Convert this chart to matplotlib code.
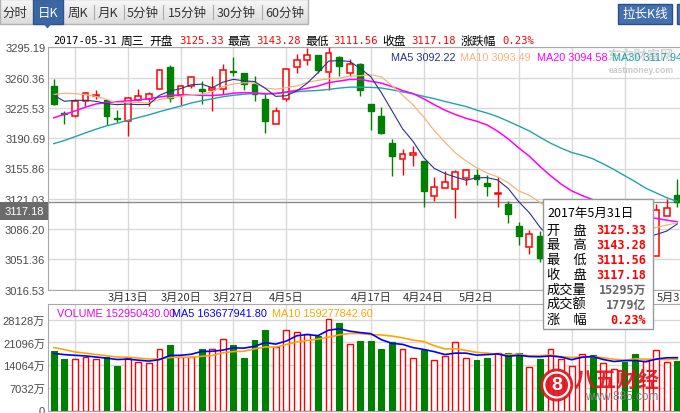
import numpy as np
import pandas as pd
import matplotlib
matplotlib.use("Agg")
import matplotlib.pyplot as plt
from matplotlib.colors import LinearSegmentedColormap
from matplotlib.patches import Rectangle, Circle, Polygon

# ---- data: SSE composite, daily, 2017-03-02 .. 2017-05-31 -----------------
dates = ['3-2', '3-3', '3-6', '3-7', '3-8', '3-9', '3-10', '3-13', '3-14', '3-15',
         '3-16', '3-17', '3-20', '3-21', '3-22', '3-23', '3-24', '3-27', '3-28', '3-29',
         '3-30', '3-31', '4-5', '4-6', '4-7', '4-10', '4-11', '4-12', '4-13', '4-14',
         '4-17', '4-18', '4-19', '4-20', '4-21', '4-24', '4-25', '4-26', '4-27', '4-28',
         '5-2', '5-3', '5-4', '5-5', '5-8', '5-9', '5-10', '5-11', '5-12', '5-15',
         '5-16', '5-17', '5-18', '5-19', '5-22', '5-23', '5-24', '5-25', '5-26', '5-31']

open_ = [3251.1, 3219.5, 3216.6, 3233.1, 3239.5, 3234.6, 3213.5, 3210.1, 3235.0, 3235.8,
         3246.9, 3272.2, 3240.8, 3250.3, 3247.3, 3245.7, 3246.9, 3268.5, 3265.7, 3253.0,
         3235.8, 3206.6, 3235.8, 3272.2, 3280.6, 3286.4, 3266.4, 3283.7, 3265.3, 3276.0,
         3230.0, 3216.6, 3185.2, 3166.4, 3171.4, 3164.1, 3123.9, 3133.1, 3131.9, 3144.6,
         3148.4, 3139.2, 3126.5, 3114.7, 3090.2, 3065.3, 3078.7, 3045.0, 3051.0, 3085.0,
         3082.0, 3108.0, 3085.0, 3087.0, 3088.0, 3073.0, 3052.0, 3055.7, 3101.7, 3125.33]

high = [3258.8, 3222.4, 3235.8, 3243.4, 3246.5, 3235.0, 3223.1, 3238.5, 3247.3, 3243.4,
        3270.3, 3274.9, 3251.9, 3261.8, 3256.1, 3261.8, 3276.0, 3283.7, 3265.7, 3261.8,
        3241.5, 3226.2, 3271.4, 3287.5, 3294.0, 3286.4, 3295.19, 3284.8, 3281.8, 3276.8,
        3230.0, 3226.2, 3189.8, 3178.3, 3181.4, 3164.1, 3145.7, 3152.6, 3154.5, 3154.9,
        3155.3, 3148.4, 3145.7, 3118.9, 3094.0, 3085.2, 3084.4, 3062.0, 3084.0, 3096.0,
        3113.5, 3116.0, 3097.0, 3097.0, 3089.0, 3083.0, 3068.0, 3115.1, 3120.4, 3143.28]

low = [3228.9, 3207.0, 3215.5, 3228.1, 3235.8, 3205.9, 3209.0, 3193.6, 3233.1, 3228.1,
       3246.9, 3232.7, 3229.3, 3248.0, 3230.0, 3222.4, 3241.5, 3261.8, 3246.1, 3233.9,
       3197.1, 3206.6, 3233.9, 3266.0, 3275.2, 3265.7, 3246.5, 3262.6, 3262.6, 3239.6,
       3200.1, 3196.0, 3147.6, 3148.8, 3159.1, 3112.0, 3118.9, 3133.1, 3098.6, 3137.3,
       3137.3, 3124.6, 3112.0, 3093.6, 3068.3, 3057.6, 3048.0, 3016.53, 3049.0, 3080.0,
       3071.0, 3100.0, 3081.0, 3083.0, 3053.0, 3052.0, 3023.0, 3055.7, 3101.7, 3111.56]

close = [3230.03, 3218.31, 3233.87, 3242.41, 3240.66, 3216.75, 3212.76, 3237.02, 3239.33, 3241.76,
         3268.94, 3237.45, 3250.81, 3261.61, 3245.22, 3248.55, 3269.45, 3266.96, 3252.95, 3241.31,
         3210.24, 3222.51, 3270.30, 3281.00, 3286.62, 3269.39, 3288.97, 3273.83, 3275.96, 3246.07,
         3222.17, 3196.71, 3170.69, 3172.17, 3173.15, 3129.53, 3134.57, 3140.85, 3152.19, 3154.66,
         3143.71, 3135.35, 3127.37, 3103.04, 3078.61, 3080.53, 3052.79, 3061.50, 3083.51, 3090.23,
         3112.96, 3104.44, 3090.14, 3090.63, 3075.68, 3061.95, 3064.08, 3107.83, 3110.06, 3117.18]

# volume in 万 (x10k)
volume = [18460, 15870, 15870, 16590, 16070, 16700, 13790, 16390, 15040, 14620,
          18980, 20220, 16700, 16590, 18980, 19190, 22090, 20220, 16180, 21780,
          24890, 19810, 24890, 24470, 23640, 23130, 28310, 27070, 20740, 21470,
          21470, 18980, 21360, 19190, 16390, 18670, 15560, 16900, 21360, 16390,
          15560, 16390, 17940, 17730, 17940, 13590, 16070, 19190, 16070, 13790,
          17420, 17110, 14620, 12960, 15140, 17600, 15300, 18600, 15050, 15295]

# closes / volumes before 3-2, only used to warm up the moving averages
prev_close = [3112.76, 3103.43, 3108.77, 3113.01, 3101.30, 3123.14, 3136.77, 3142.55, 3149.55,
              3159.17, 3140.17, 3156.98, 3153.09, 3166.98, 3183.18, 3196.70, 3216.84, 3217.93,
              3212.99, 3229.62, 3202.08, 3239.96, 3253.33, 3261.22, 3251.38, 3253.43, 3228.66,
              3241.73, 3246.93]
prev_volume = [21800, 23500, 20500, 20000, 20700, 17800, 16900, 17600, 17740]

price_ticks = [3016.53, 3051.36, 3086.20, 3121.03, 3155.86, 3190.69, 3225.53, 3260.36, 3295.19]
volume_ticks = [7032, 14064, 21096, 28128]
volume_tick_labels = ['7032万', '14064万', '21096万', '28128万']
grid_dates = ['3-6', '3-13', '3-20', '3-27', '4-5', '4-17', '4-24', '5-2', '5-8', '5-15', '5-22']
label_dates = ['3-13', '3-20', '3-27', '4-5', '4-17', '4-24', '5-2', '5-31']
turnover_label = '1779亿'
ma_legend = ['MA5 3092.22', 'MA10 3093.49', 'MA20 3094.58', 'MA30 3117.94']
vol_legend = ['VOLUME 152950430.00', 'MA5 163677941.80', 'MA10 159277842.60']
tabs = ['分时', '日K', '周K', '月K', '5分钟', '15分钟', '30分钟', '60分钟']

# ---- styling ----------------------------------------------------------------
W, H = 680, 414
CJK = ['Noto Sans CJK SC', 'DejaVu Sans']
SANS = ['Liberation Sans', 'Noto Sans CJK SC']
MONO = ['DejaVu Sans Mono', 'Noto Sans CJK SC']
RED, GREEN = '#FF0000', '#008000'
GRID, BORDER = '#D9D9D9', '#A8A8A8'
MA_COLORS = {5: '#26338C', 10: '#F5B57C', 20: '#FF00FF', 30: '#22A3AA'}


def rect(x0, y0, x1, y1):
    """Figure-fraction rect from pixel box (top-left origin)."""
    return [x0 / W, 1 - y1 / H, (x1 - x0) / W, (y1 - y0) / H]


open_, high, low, close, volume = map(np.array, (open_, high, low, close, volume))
x = np.arange(len(close))
up = close >= open_
body_lo = np.minimum(open_, close)
body_hi = np.maximum(open_, close)

all_close = pd.Series(prev_close + list(close))
price_ma = {n: all_close.rolling(n).mean().to_numpy()[len(prev_close):] for n in (5, 10, 20, 30)}
all_vol = pd.Series(prev_volume + list(volume))
vol_ma = {n: all_vol.rolling(n).mean().to_numpy()[len(prev_volume):] for n in (5, 10)}

grid_idx = [dates.index(d) for d in grid_dates]
label_idx = [dates.index(d) for d in label_dates]
label_text = ['%s月%s日' % tuple(d.split('-')) for d in label_dates]

fig = plt.figure(figsize=(W / 100, H / 100), dpi=100)
fig.patch.set_facecolor('white')

# ---- price panel ------------------------------------------------------------
ax = fig.add_axes(rect(48, 48.3, 680, 290.7))
ax.set_xlim(-0.54, 59.25)
ax.set_ylim(price_ticks[0], price_ticks[-1])
for s in ('top', 'left', 'bottom'):
    ax.spines[s].set_color(BORDER)
ax.spines['right'].set_visible(False)
ax.set_yticks(price_ticks)
ax.set_yticklabels(['%.2f' % t for t in price_ticks], family=SANS, fontsize=8, color='#4A4A4A')
ax.set_xticks(label_idx)
ax.set_xticklabels(label_text, family=CJK, fontsize=8, color='#333333')
ax.tick_params(length=0, pad=2)
ax.tick_params(axis='x', pad=1.5)
ax.grid(axis='y', color=GRID, lw=1)
for i in grid_idx:
    ax.axvline(i, color=GRID, lw=1, zorder=0.5)
ax.set_axisbelow(True)
ax.axhline(close[-1], color='#8C8C8C', lw=1, zorder=2)

ax.vlines(x[~up], low[~up], high[~up], color=GREEN, lw=1, zorder=3)
ax.vlines(x[up], body_hi[up], high[up], color=RED, lw=1, zorder=3)
ax.vlines(x[up], low[up], body_lo[up], color=RED, lw=1, zorder=3)
ax.bar(x[up], (body_hi - body_lo)[up], bottom=body_lo[up], width=0.55,
       facecolor='white', edgecolor=RED, lw=1.1, zorder=4)
ax.bar(x[~up], (body_hi - body_lo)[~up], bottom=body_lo[~up], width=0.55,
       facecolor=GREEN, edgecolor=GREEN, lw=1, zorder=4)
for n, lw in ((30, 1.0), (20, 1.1), (10, 0.9), (5, 0.8)):
    ax.plot(x, price_ma[n], color=MA_COLORS[n], lw=lw, zorder=5)

# ---- volume panel -----------------------------------------------------------
axv = fig.add_axes(rect(48, 305, 680, 411.5))
axv.set_xlim(ax.get_xlim())
axv.set_ylim(0, 33000)
for s in ('top', 'left', 'bottom'):
    axv.spines[s].set_color(BORDER)
axv.spines['right'].set_visible(False)
axv.set_yticks([0] + volume_ticks)
axv.set_yticklabels(['0'] + volume_tick_labels, family=SANS, fontsize=8, color='#4A4A4A')
axv.set_xticks([])
axv.tick_params(length=0, pad=2)
axv.grid(axis='y', color=GRID, lw=1)
for i in grid_idx:
    axv.axvline(i, color=GRID, lw=1, zorder=0.5)
axv.set_axisbelow(True)
axv.bar(x[up], volume[up], width=0.55, facecolor='white', edgecolor=RED, lw=1, zorder=3)
axv.bar(x[~up], volume[~up], width=0.55, facecolor=GREEN, edgecolor=GREEN, lw=0.8, zorder=3)
axv.plot(x, vol_ma[10], color='#FFA500', lw=1.2, zorder=4)
axv.plot(x, vol_ma[5], color='#0000FF', lw=1.2, zorder=4)

# ---- overlay in pixel coordinates (toolbar, legends, tooltip, logos) ---------
ov = fig.add_axes([0, 0, 1, 1])
ov.patch.set_alpha(0)
ov.axis('off')


def txt(px, py, s, color='#000000', size=8.5, family=CJK, ha='left', weight='normal', **kw):
    ov.text(px, py, s, color=color, fontsize=size, family=family, ha=ha, va='center',
            fontweight=weight, **kw)


# toolbar
grad = LinearSegmentedColormap.from_list('bar', ['#F8F8F8', '#DCDCDC'])
ov.imshow(np.linspace(0, 1, 50)[:, None], extent=(0, 308, 25, 0), cmap=grad, aspect='auto', zorder=1)
ov.add_patch(Rectangle((0, 0), 308, 25, fc='none', ec='#B3B3B3', lw=1, zorder=2))
ov.add_patch(Rectangle((33, 0), 30, 25, fc='#3A67A3', ec='#2D568C', lw=1, zorder=2))
ov.add_patch(Polygon([(43.5, 25), (51.5, 25), (47.5, 29.5)], closed=True, fc='#3A67A3', ec='none', zorder=2))
tab_centers = [14.5, 48, 78, 108, 143, 187, 236.5, 285]
for name, cx in zip(tabs, tab_centers):
    txt(cx, 13, name, color='white' if name == '日K' else '#333333', size=9, ha='center', zorder=3)
for sx in (94, 124, 163, 213, 262):
    ov.plot([sx, sx], [6, 20], color='#A9A9A9', lw=0.8, zorder=3)
ov.add_patch(Rectangle((618, 5), 54, 19.5, fc='#4470AE', ec='#2A4F86', lw=1, zorder=2))
txt(645, 14.5, '拉长K线', color='white', size=9, ha='center', zorder=3)
ov.add_patch(Rectangle((676.5, 5), 12, 19.5, fc='#4470AE', ec='#2A4F86', lw=1, zorder=2))

# info line for the last day
chg = (close[-1] / close[-2] - 1) * 100
info = [(53.3, '2017-05-31', '#000000', MONO), (120.7, '周三', '#000000', CJK),
        (149, '开盘', '#000000', CJK), (179, '%.2f' % open_[-1], RED, MONO),
        (227.7, '最高', '#000000', CJK), (256.7, '%.2f' % high[-1], RED, MONO),
        (305, '最低', '#000000', CJK), (333.3, '%.2f' % low[-1], RED, MONO),
        (382.7, '收盘', '#000000', CJK), (411.7, '%.2f' % close[-1], RED, MONO),
        (460.7, '涨跌幅', '#000000', CJK), (502.7, '%.2f%%' % chg, RED, MONO)]
for px, s, c, fam in info:
    txt(px, 41.5, s, color=c, size=7.6 if fam is MONO else 8.5, family=fam)

# watermark + MA legend
txt(640, 56, '东方财富网', color='#D2D2D2', size=9.5, ha='center', weight='bold', style='italic', zorder=1)
txt(641, 70.5, 'eastmoney.com', color='#CACACA', size=6.2, family=SANS, ha='center', weight='bold', zorder=1)
for px, s, n in zip((390.7, 460, 536.7, 612), ma_legend, (5, 10, 20, 30)):
    txt(px, 57.7, s, color=MA_COLORS[n], size=7.8, family=SANS, zorder=3)
for px, s, c in zip((56.7, 171.7, 271.7), vol_legend, ('#E600E6', '#0000FF', '#FFA500')):
    txt(px, 314, s, color=c, size=7.8, family=SANS, zorder=3)

# last-price tag on the left axis
y_last = H - ax.transData.transform((0, close[-1]))[1]
ov.add_patch(Rectangle((0, y_last - 0.5), 47.5, 18, fc='#6B6B6B', ec='none', zorder=3))
txt(24, y_last + 8.5, '%.2f' % close[-1], color='white', size=8, family=SANS, ha='center', zorder=4)

# logo
ov.add_patch(Circle((556.7, 386), 16.5, fc='#E0141E', ec='none', alpha=0.92, zorder=5))
ov.add_patch(Circle((556.7, 386), 12.5, fc='none', ec='white', lw=1.6, zorder=6))
txt(556.7, 386, '8', color='white', size=14, family=SANS, ha='center', weight='bold', zorder=7)
txt(573, 380, '八五财经', color='#E0141E', size=15.5, weight='bold', style='italic', alpha=0.9, zorder=5)
txt(585, 397, 'www.885.com', color='#808080', size=8.5, family=SANS, zorder=5)

# tooltip box
ov.add_patch(Rectangle((542.5, 199.5), 110, 130, fc='white', ec='#999999', lw=1, zorder=10))
txt(547, 213.3, '2017年5月31日', size=9, zorder=11)
rows = [('开\u3000盘', '%.2f' % open_[-1], RED), ('最\u3000高', '%.2f' % high[-1], RED),
        ('最\u3000低', '%.2f' % low[-1], RED), ('收\u3000盘', '%.2f' % close[-1], RED),
        ('成交量', '%d万' % volume[-1], '#666666'), ('成交额', turnover_label, '#666666'),
        ('涨\u3000幅', '%.2f%%' % chg, RED)]
for k, (lab, val, c) in enumerate(rows):
    ry = 231 + 14.9 * k
    txt(547, ry, lab, size=9.5, zorder=11)
    txt(646, ry, val, color=c, size=8.5, family=MONO, ha='right', weight='bold', zorder=11)

ov.set_xlim(0, W)
ov.set_ylim(H, 0)

fig.savefig('out.png', dpi=100, facecolor='white')
